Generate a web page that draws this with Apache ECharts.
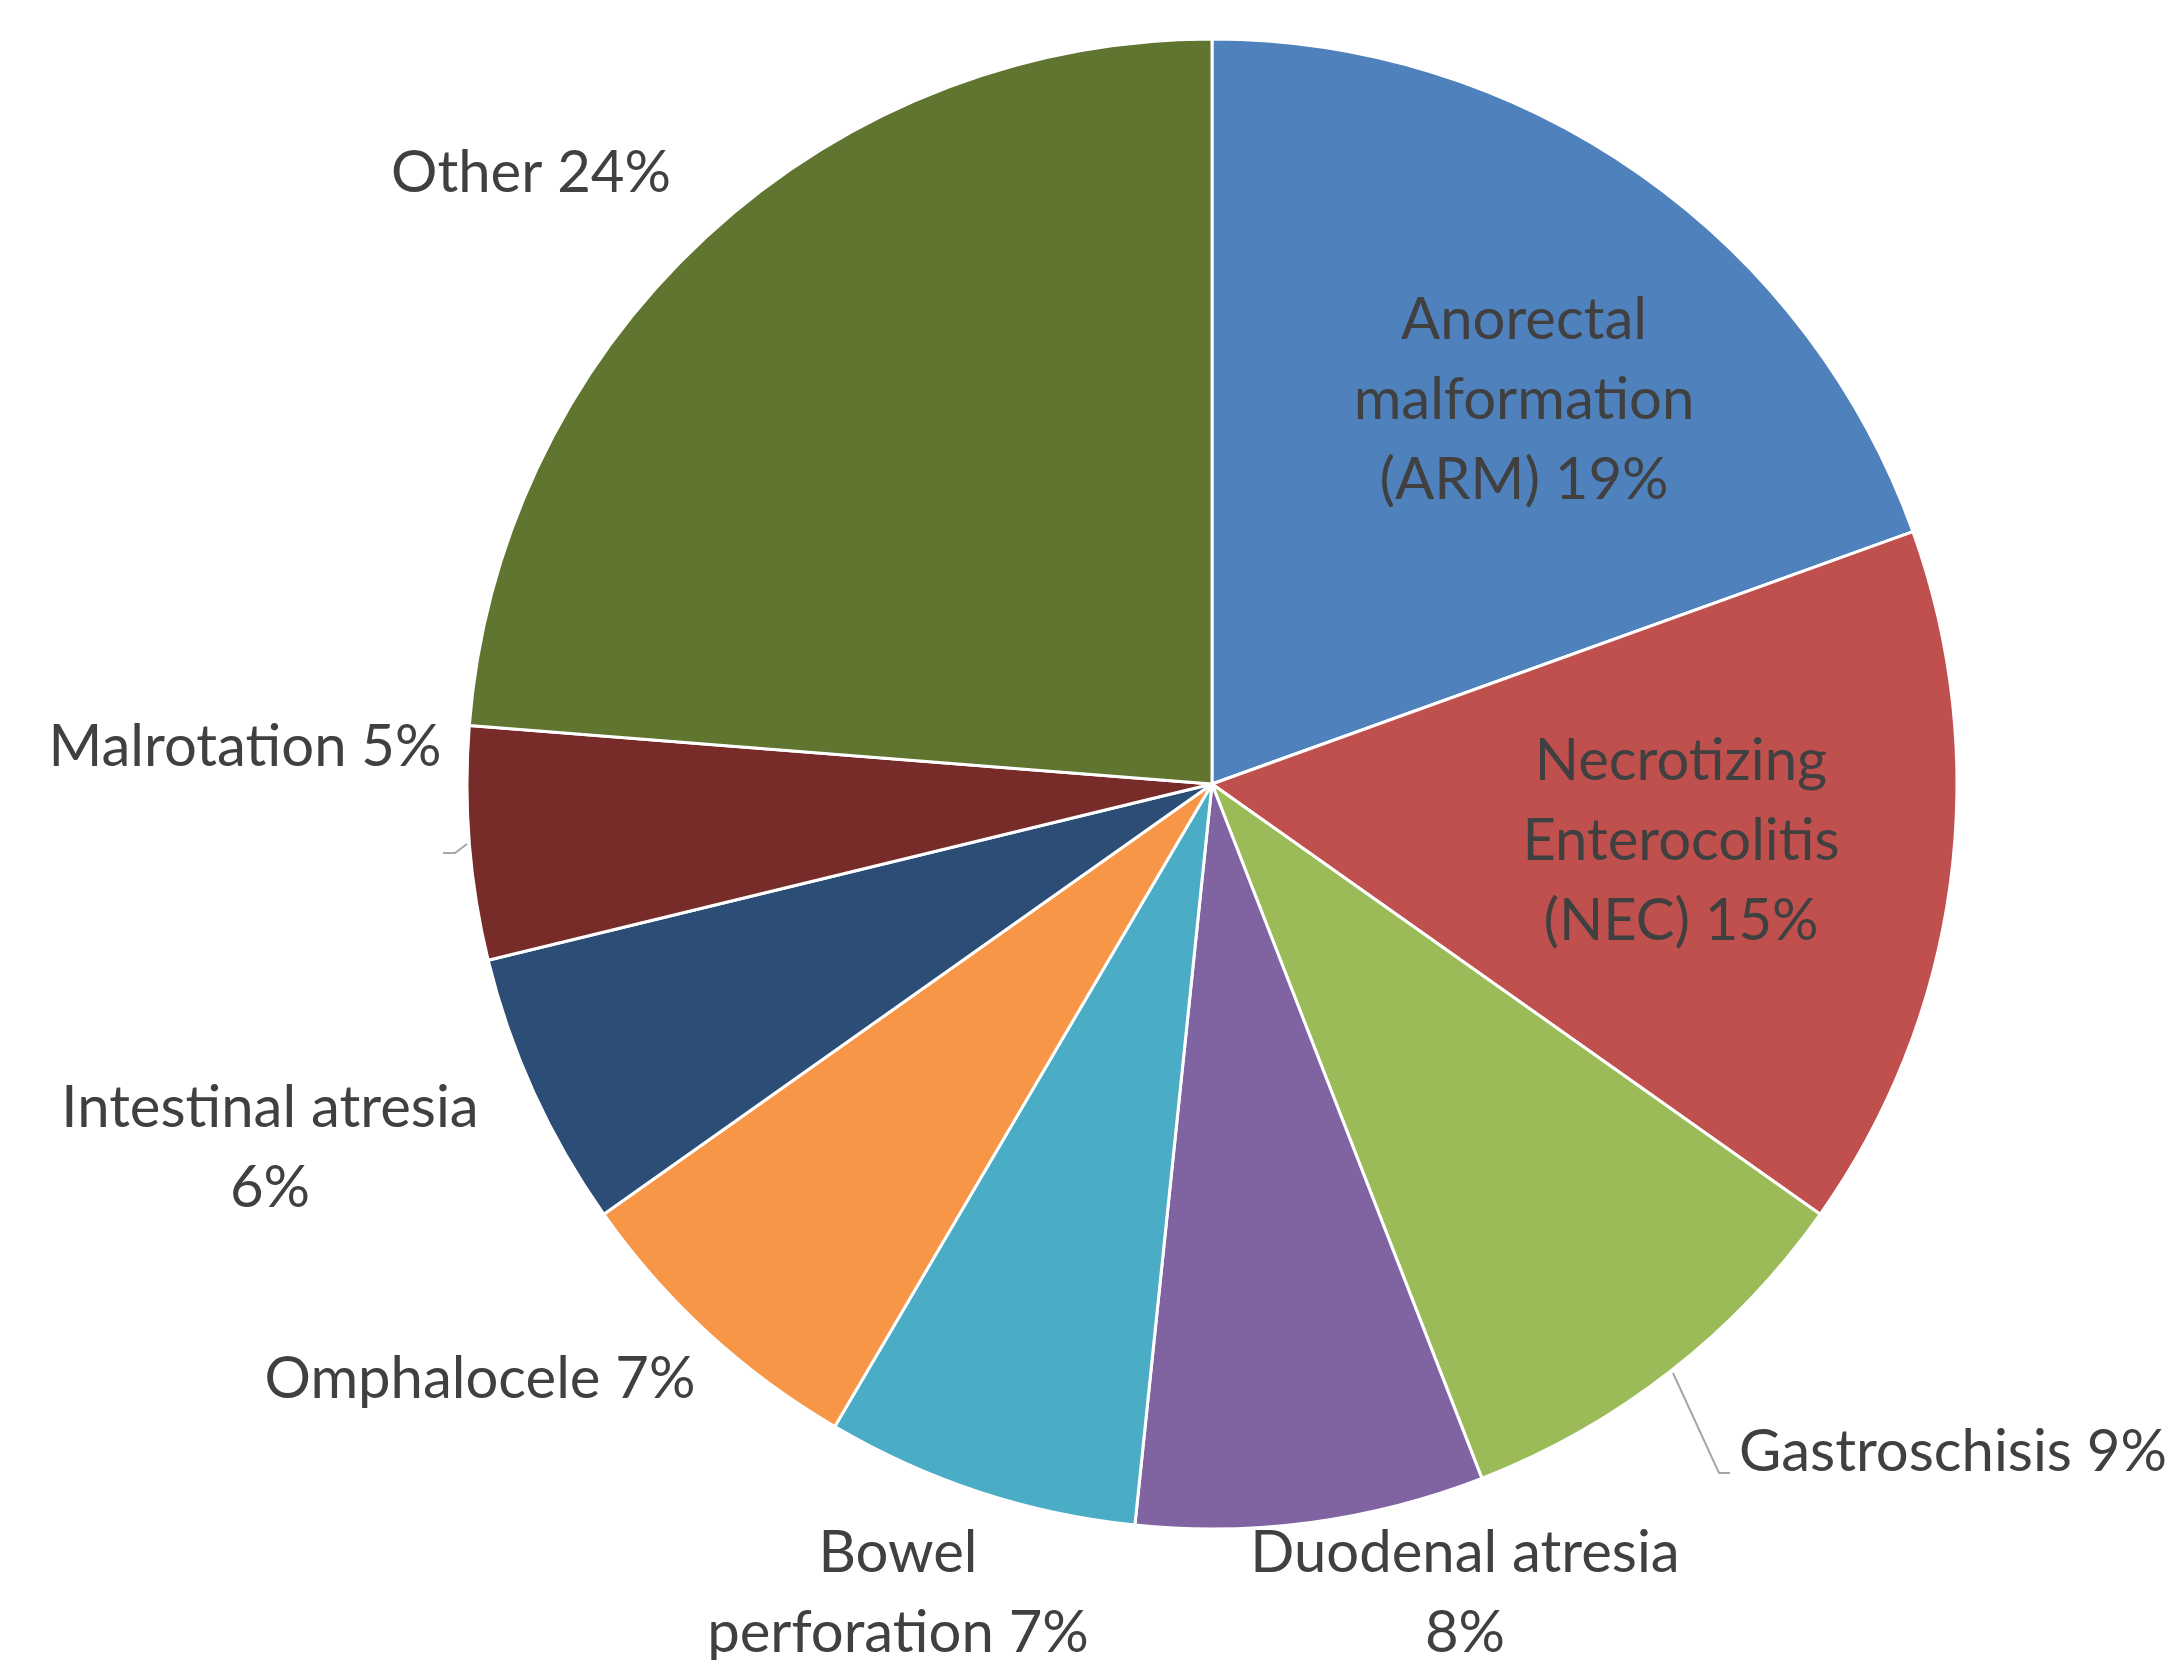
<!DOCTYPE html>
<html><head><meta charset="utf-8">
<script src="https://cdn.jsdelivr.net/npm/echarts@6/dist/echarts.min.js"></script>
<style>html,body{margin:0;padding:0;background:#fff}#c{width:2169px;height:1660px}</style>
</head><body><div id="c"></div>
<script>
// ---- data ----
const categories = ['Anorectal malformation (ARM)', 'Necrotizing Enterocolitis (NEC)', 'Gastroschisis', 'Duodenal atresia', 'Bowel perforation', 'Omphalocele', 'Intestinal atresia', 'Malrotation', 'Other'];
const values = [19.5, 15.3, 9.3, 7.55, 6.8, 6.75, 6.0, 5.05, 23.75];
const percentLabels = [19, 15, 9, 8, 7, 7, 6, 5, 24];

// ---- style / layout ----
const colors = ['#4F81BD', '#C0504D', '#9BBB59', '#8064A2', '#4BACC6', '#F79646', '#2C4D75', '#772C2A', '#5F7530'];
const CX = 1212, CY = 784, R = 745;
const breakAfterWord = [[0, 1], [0, 1], [], [1], [0], [], [1], [], []];
const spots = [
  { dx: 312, dy: -384, align: 'center' },
  { dx: 469, dy: 57, align: 'center' },
  { dx: 527, dy: 668, align: 'left' },
  { dx: 253, dy: 809, align: 'center' },
  { dx: -314, dy: 809, align: 'center' },
  { dx: -732, dy: 595, align: 'center' },
  { dx: -942, dy: 364, align: 'center' },
  { dx: -967, dy: -37, align: 'center' },
  { dx: -681, dy: -611, align: 'center' }
];
const leaders = {
  2: [[461, 589], [507, 689], [518, 689]],
  7: [[-745, 60], [-757, 69], [-769, 69]]
};

function labelText(i) {
  const words = (categories[i] + ' ' + percentLabels[i] + '%').split(' ');
  let s = '';
  words.forEach((w, k) => {
    s += w;
    if (k < words.length - 1) s += breakAfterWord[i].indexOf(k) >= 0 ? '\n' : ' ';
  });
  return s;
}

const chart = echarts.init(document.getElementById('c'), null, { renderer: 'canvas' });
chart.setOption({
  animation: false,
  backgroundColor: '#ffffff',
  series: [{
    type: 'pie',
    center: [CX, CY],
    radius: R,
    startAngle: 90,
    clockwise: true,
    avoidLabelOverlap: false,
    silent: true,
    itemStyle: { borderColor: '#ffffff', borderWidth: 3 },
    label: {
      show: true,
      position: 'outside',
      fontFamily: 'Lato',
      fontSize: 58,
      lineHeight: 80,
      color: '#404040',
      width: 900,
      overflow: 'none',
      formatter: p => labelText(p.dataIndex)
    },
    labelLine: { show: false, lineStyle: { color: '#A6A6A6', width: 2 } },
    labelLayout: function (params) {
      const i = params.dataIndex;
      const s = spots[i];
      const out = { x: CX + s.dx, y: CY + s.dy, align: s.align, verticalAlign: 'middle' };
      if (leaders[i]) out.labelLinePoints = leaders[i].map(p => [CX + p[0], CY + p[1]]);
      return out;
    },
    data: categories.map((name, i) => ({
      name: name,
      value: values[i],
      itemStyle: { color: colors[i] },
      labelLine: { show: !!leaders[i] }
    }))
  }]
});
</script>
</body></html>
